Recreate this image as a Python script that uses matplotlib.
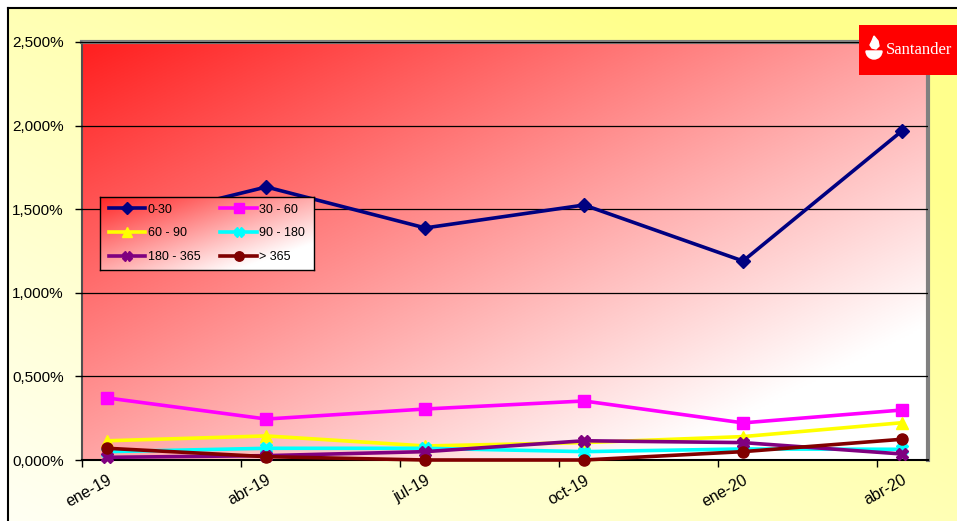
import numpy as np
import matplotlib
matplotlib.use('Agg')
import matplotlib.pyplot as plt
import matplotlib.transforms as mtransforms
from matplotlib.ticker import FuncFormatter
from matplotlib.patches import Polygon, Wedge

months = ['ene-19', 'abr-19', 'jul-19', 'oct-19', 'ene-20', 'abr-20']
labels = ['0-30', '30 - 60', '60 - 90', '90 - 180', '180 - 365', '> 365']
d0_30 = [1.40, 1.633, 1.388, 1.525, 1.19, 1.968]
d30_60 = [0.371, 0.245, 0.305, 0.353, 0.222, 0.299]
d60_90 = [0.115, 0.144, 0.084, 0.104, 0.140, 0.223]
d90_180 = [0.050, 0.070, 0.070, 0.050, 0.066, 0.064]
d180_365 = [0.016, 0.026, 0.050, 0.115, 0.104, 0.036]
d365 = [0.070, 0.020, 0.0, 0.0, 0.050, 0.124]
series = [d0_30, d30_60, d60_90, d90_180, d180_365, d365]
colors = ['#000080', '#FF00FF', '#FFFF00', '#00FFFF', '#800080', '#800000']
markers = ['D', 's', '^', 'X', 'X', 'o']
msizes = [7, 8, 8, 8, 8, 8]

plt.rcParams['font.family'] = ['Liberation Sans', 'DejaVu Sans']

W, H = 957, 521
fig = plt.figure(figsize=(W / 100, H / 100), dpi=100)
fig.patch.set_facecolor('white')


def gradient(c0, c1, n=200, diag='tl', a=0.0, b=1.0):
    xx, yy = np.meshgrid(np.linspace(0, 1, n), np.linspace(0, 1, n))
    if diag == 'tl':
        t = (xx + (1 - yy)) / 2
    else:
        t = (xx + yy) / 2
    t = np.clip(a + b * t, 0, 1)
    c0 = np.array(c0)
    c1 = np.array(c1)
    return c0 + (c1 - c0) * t[..., None]


# outer chart area
bg = fig.add_axes([8 / W, 0, 1, 1 - 8 / H], zorder=-10)
bg.imshow(gradient((1, 1, 1), (1, 1, 0.55), diag='bl', a=0.1, b=1.1),
          extent=[0, 1, 0, 1], origin='lower', aspect='auto')
bg.set_xlim(0, 1)
bg.set_ylim(0, 1)
bg.set_xticks([])
bg.set_yticks([])
for s in ['right', 'bottom']:
    bg.spines[s].set_visible(False)
for s in ['left', 'top']:
    bg.spines[s].set_linewidth(1.5)

# plot area
ax = fig.add_axes([82 / W, 61 / H, 846 / W, 418 / H])
ax.imshow(gradient((1, 0, 0), (1, 1, 1), a=0.12, b=1.05), extent=[0, 1, 0, 1],
          transform=ax.transAxes, origin='lower', aspect='auto', zorder=0)
x = np.arange(len(months))
for i in range(len(series)):
    ax.plot(x, series[i], color=colors[i], marker=markers[i], ms=msizes[i],
            lw=2.6, label=labels[i], zorder=3 + i, clip_on=False)

ax.set_xlim(-0.16, 5.164)
ax.set_ylim(0, 2.5)
ax.set_yticks([0, 0.5, 1.0, 1.5, 2.0, 2.5])
ax.yaxis.set_major_formatter(FuncFormatter(lambda v, p: f'{v:.3f}%'.replace('.', ',')))
ax.grid(axis='y', color='black', lw=0.9, zorder=1)
ax.set_axisbelow(False)
ax.tick_params(axis='y', length=5, width=1, pad=8, labelsize=11)

ax.set_xticks(x)
ax.set_xticklabels(months, rotation=29, ha='right', rotation_mode='anchor', fontsize=11.5)
shift = mtransforms.ScaledTranslation(-4 / 100, 0, fig.dpi_scale_trans)
for lab in ax.get_xticklabels():
    lab.set_transform(lab.get_transform() + shift)
ax.set_xticks(x - 0.16, minor=True)
ax.tick_params(axis='x', which='major', length=0, pad=9)
ax.tick_params(axis='x', which='minor', length=5, width=1)

for s in ['top', 'right']:
    ax.spines[s].set_color('#808080')
    ax.spines[s].set_linewidth(3)
ax.spines['left'].set_color('#505050')
ax.spines['left'].set_linewidth(1.5)
ax.spines['bottom'].set_linewidth(1.5)

# legend box with its own gradient
lax = fig.add_axes([100 / W, 1 - 270 / H, 214 / W, 73 / H], zorder=5)
lax.imshow(gradient((1, 0.05, 0.05), (1, 1, 1), a=0.1, b=1.1), extent=[0, 1, 0, 1],
           origin='lower', aspect='auto')
lax.set_xlim(0, 1)
lax.set_ylim(0, 1)
lax.set_xticks([])
lax.set_yticks([])
for s in lax.spines.values():
    s.set_linewidth(1)
handles, labs = ax.get_legend_handles_labels()
order = [0, 2, 4, 1, 3, 5]
lax.legend([handles[i] for i in order], [labs[i] for i in order], ncol=2,
           loc='center', frameon=False, fontsize=9, handlelength=2.9,
           handletextpad=0.2, columnspacing=1.6, labelspacing=0.95,
           borderaxespad=0, markerscale=0.85)

# logo
lg = fig.add_axes([859 / W, 1 - 75 / H, 98 / W, 50 / H], zorder=6)
lg.set_xlim(0, 98)
lg.set_ylim(0, 50)
lg.set_facecolor('#FF0000')
lg.set_xticks([])
lg.set_yticks([])
for s in lg.spines.values():
    s.set_visible(False)
lg.add_patch(Wedge((15, 24), 8, 180, 360, color='white'))
lg.add_patch(Polygon([(15, 39), (19, 34), (20, 29), (17, 26), (13, 27),
                      (11, 30), (13, 34)], color='white'))
lg.text(27, 25, 'Santander', color='white', fontsize=12, va='center',
        ha='left', family=['Liberation Serif', 'DejaVu Serif'])

fig.savefig('out.png', dpi=100)
